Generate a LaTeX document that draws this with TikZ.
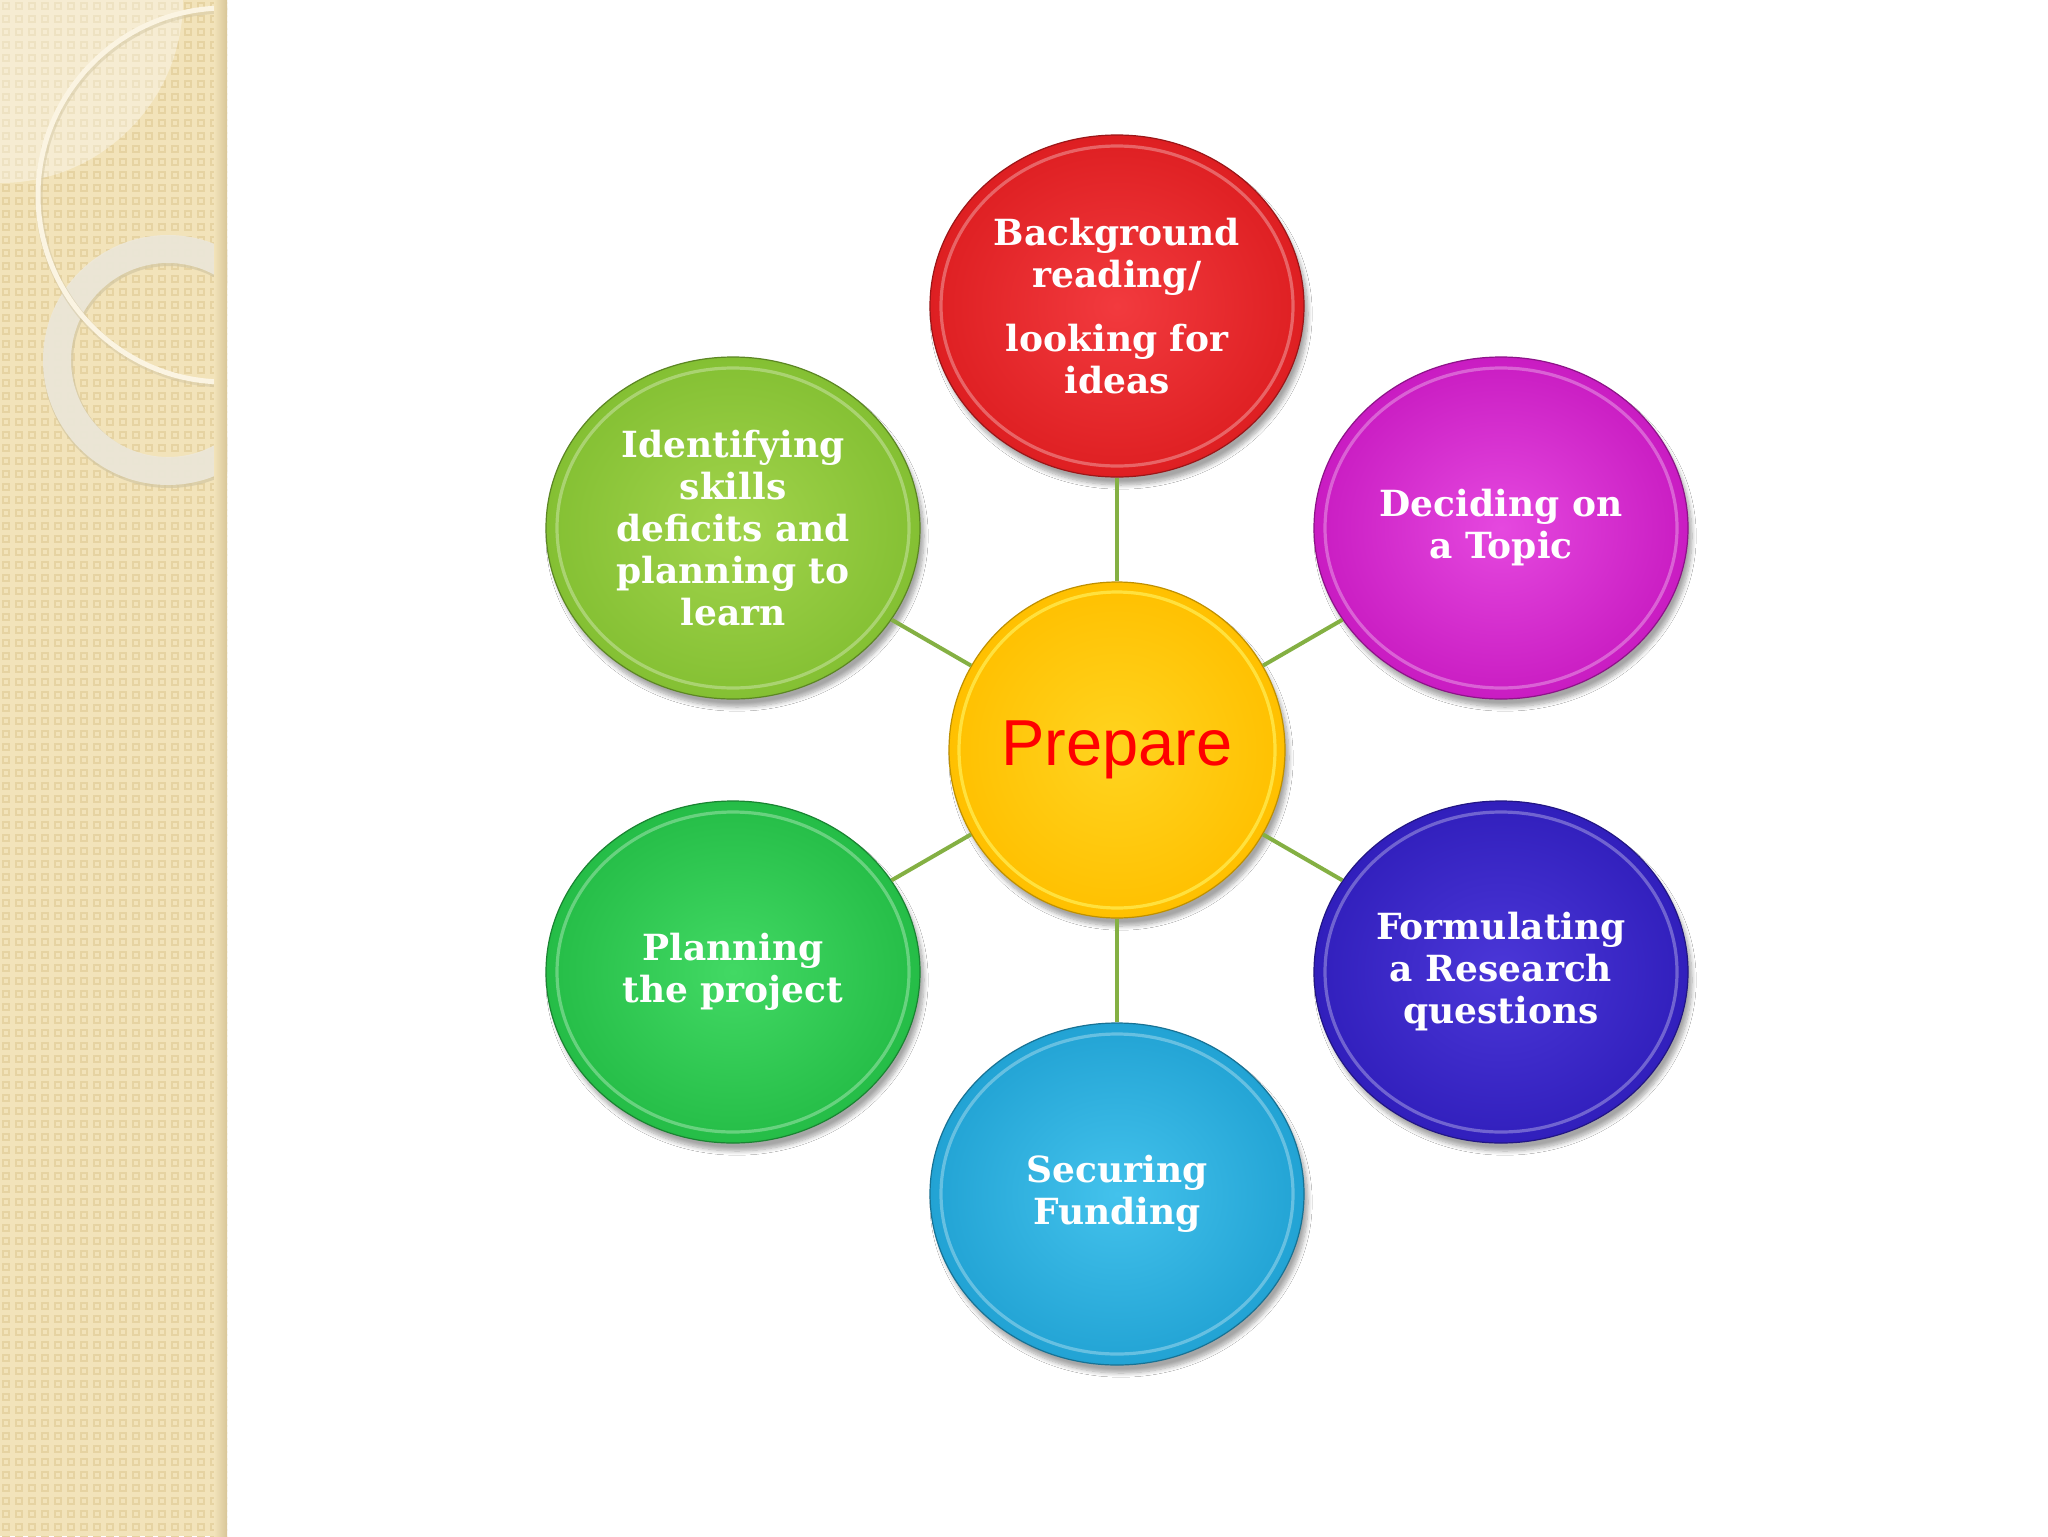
\documentclass[tikz,border=0pt]{standalone}
\usepackage{fontspec}
\setmainfont{DejaVu Serif}
\newfontfamily\prepfont{Liberation Sans}
\usetikzlibrary{shapes.geometric,shadows.blur}
\definecolor{stripbg}{HTML}{F2E3BA}
\definecolor{strippat}{HTML}{E6D3A2}
\definecolor{stripedge}{HTML}{D8C698}
\definecolor{ringthin}{HTML}{FBF4E2}
\definecolor{ringthick}{HTML}{EDE8DA}
\definecolor{ringedge}{HTML}{D3C7A3}
\definecolor{connc}{HTML}{84B043}
\definecolor{redo}{HTML}{DE1F22}\definecolor{redi}{HTML}{F23A3E}
\definecolor{mago}{HTML}{C91CC2}\definecolor{magi}{HTML}{E548DF}
\definecolor{bluo}{HTML}{311FBC}\definecolor{blui}{HTML}{4B37D8}
\definecolor{cyno}{HTML}{22A3D4}\definecolor{cyni}{HTML}{43C2EC}
\definecolor{grno}{HTML}{25BD47}\definecolor{grni}{HTML}{42D964}
\definecolor{ylgo}{HTML}{84C033}\definecolor{ylgi}{HTML}{A2D44C}
\definecolor{yelo}{HTML}{FFC000}\definecolor{yeli}{HTML}{FFD420}
\tikzset{
  bubble/.style args={#1/#2}{ellipse, inner sep=0pt, minimum width=187pt, minimum height=171pt,
    draw=#1!70!black, line width=0.6pt, inner color=#2, outer color=#1,
    blur shadow={shadow xshift=2pt, shadow yshift=-4pt, shadow blur steps=8, shadow opacity=35},
    text=white, font=\bfseries\fontsize{18}{21}\selectfont, align=center,
    path picture={\draw[white, opacity=.3, line width=1.6pt] (path picture bounding box.center) ellipse [x radius=88pt, y radius=80pt];}},
  hub/.style={circle, inner sep=0pt, minimum size=168pt,
    draw=yelo!75!black, line width=0.6pt, inner color=yeli, outer color=yelo,
    blur shadow={shadow xshift=2pt, shadow yshift=-4pt, shadow blur steps=8, shadow opacity=35},
    text={rgb,255:red,255;green,0;blue,0}, font=\prepfont\fontsize{32.5}{36}\selectfont,
    path picture={\draw[yellow!60!white, opacity=.6, line width=1.6pt] (path picture bounding box.center) circle [radius=79pt];}},
  conn/.style={draw=connc, line width=2pt},
  patsq/.style={draw=strippat, line width=0.8pt}
}
\begin{document}
\begin{tikzpicture}[x=0.5pt,y=-0.5pt]
\useasboundingbox (0,0) rectangle (2048,1536);
\fill[white] (0,0) rectangle (2048,1536);
% left decorative strip
\begin{scope}
  \clip (0,0) rectangle (227,1536);
  \fill[stripbg] (0,0) rectangle (227,1536);
  \foreach \i in {0,...,17}{
    \foreach \j in {0,...,118}{
      \draw[patsq] (\i*13+3,\j*13+3) rectangle +(6,6);
    }
  }
  \fill[white, opacity=.35] (0,0) circle [radius=183];
  \draw[ringedge, opacity=.7, line width=15pt] (169,362) circle [radius=111];
  \draw[ringthick, opacity=.9, line width=14pt] (168,360) circle [radius=111];
  \draw[ringedge, opacity=.5, line width=3.5pt] (226,197) circle [radius=187];
  \draw[ringthin, line width=2.5pt] (225,195) circle [radius=187];
  \shade[left color=stripbg, right color=stripedge] (214,0) rectangle (227,1536);
\end{scope}
% nodes
\node[hub] (c) at (1117,750) {Prepare};
\node[bubble=redo/redi] (n1) at (1117,306) {Background\\reading/\\[11pt]looking for\\ideas};
\node[bubble=mago/magi] (n2) at (1501,528) {Deciding on\\a Topic};
\node[bubble=bluo/blui] (n3) at (1501,972) {Formulating\\a Research\\questions};
\node[bubble=cyno/cyni] (n4) at (1117,1194) {Securing\\Funding};
\node[bubble=grno/grni] (n5) at (733,972) {Planning\\the project};
\node[bubble=ylgo/ylgi] (n6) at (733,528) {Identifying\\skills\\deficits and\\planning to\\learn};
% connectors
\foreach \n in {n1,n2,n3,n4,n5,n6}{
  \draw[conn] (c) -- (\n);
}
\end{tikzpicture}
\end{document}
